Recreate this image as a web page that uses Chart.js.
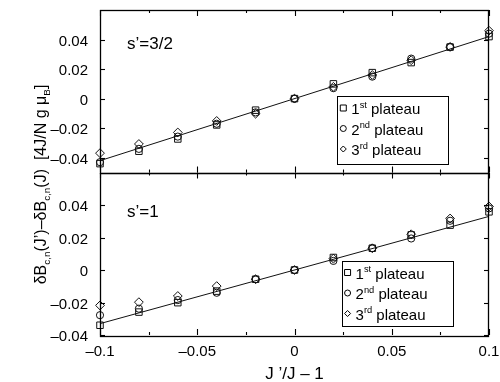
<!DOCTYPE html>
<html lang="en">
<head>
<meta charset="UTF-8">
<script src="https://cdn.jsdelivr.net/npm/chart.js"></script>
<style>
  html, body { margin: 0; padding: 0; background: #fff; }
  #wrap { width: 500px; height: 382px; position: relative; }
</style>
</head>
<body>
<div id="wrap"><canvas id="chart" width="500" height="382"></canvas></div>
<script>
// values
const xValues = [-0.1, -0.08, -0.06, -0.04, -0.02, 0, 0.02, 0.04, 0.06, 0.08, 0.1];
const top1st = [-0.044, -0.0356, -0.0273, -0.0178, -0.0078, 0, 0.0100, 0.0176, 0.0244, 0.0349, 0.0420];
const top2nd = [-0.043, -0.0340, -0.0257, -0.0170, -0.0093, 0, 0.0071, 0.0149, 0.0271, 0.0350, 0.0440];
const top3rd = [-0.0369, -0.0307, -0.0229, -0.0151, -0.0102, 0, 0.0080, 0.0160, 0.0260, 0.0350, 0.0460];
const bot1st = [-0.0340, -0.0259, -0.0201, -0.0130, -0.0057, 0, 0.0077, 0.0134, 0.0216, 0.0276, 0.0358];
const bot2nd = [-0.0278, -0.0238, -0.0185, -0.0140, -0.0057, 0, 0.0056, 0.0134, 0.0194, 0.0303, 0.0379];
const bot3rd = [-0.0218, -0.0198, -0.0160, -0.0099, -0.0057, 0, 0.0070, 0.0134, 0.0220, 0.0317, 0.0391];
const fitX = [-0.1, 0.1];
const topFit = [-0.042, 0.042];
const botFit = [-0.033, 0.033];

const xTicks = [-0.1, -0.05, 0, 0.05, 0.1];
const xTickLabels = ['\u20130.1', '\u20130.05', '0', '0.05', '0.1'];
const xMinorTicks = [-0.075, -0.025, 0.025, 0.075];
const yTicks = [-0.04, -0.02, 0, 0.02, 0.04];
const yTickLabels = ['\u20130.04', '\u20130.02', '0', '0.02', '0.04'];
const topRange = [-0.05, 0.06];
const botRange = [-0.04, 0.06];
const legendRows = [['1', 'st'], ['2', 'nd'], ['3', 'rd']];

const FONT = '"Liberation Sans", Arial, Helvetica, sans-serif';
const INK = '#000';

const pts = (ys) => xValues.map((x, i) => ({ x, y: ys[i] }));
const line = (ys) => fitX.map((x, i) => ({ x, y: ys[i] }));

function markerSet(data, axis, style, r) {
  return {
    data: pts(data), yAxisID: axis, showLine: false, clip: false,
    pointStyle: style, pointRadius: r, pointHoverRadius: r,
    pointBorderColor: '#111', pointBackgroundColor: 'rgba(0,0,0,0)', pointBorderWidth: 1
  };
}
function fitSet(data, axis) {
  return {
    data: line(data), yAxisID: axis, showLine: true, pointRadius: 0,
    borderColor: '#111', borderWidth: 1, order: 5
  };
}

// rich text: segments [text, kind] kind '' | 'sub' | 'sup'
function richWidth(ctx, segs, size) {
  let w = 0;
  segs.forEach(([t, k]) => {
    ctx.font = (k ? size * 0.62 : size) + 'px ' + FONT;
    w += ctx.measureText(t).width;
  });
  return w;
}
function drawRich(ctx, segs, x, y, size, align) {
  let w = richWidth(ctx, segs, size);
  let cx = align === 'center' ? x - w / 2 : align === 'right' ? x - w : x;
  ctx.textAlign = 'left';
  ctx.textBaseline = 'alphabetic';
  segs.forEach(([t, k]) => {
    const s = k ? size * 0.62 : size;
    ctx.font = s + 'px ' + FONT;
    const dy = k === 'sub' ? size * 0.28 : k === 'sup' ? -size * 0.42 : 0;
    ctx.fillText(t, cx, y + dy);
    cx += ctx.measureText(t).width;
  });
}

function drawMarker(ctx, style, x, y, r) {
  ctx.beginPath();
  if (style === 'rect') ctx.rect(x - r, y - r, 2 * r, 2 * r);
  else if (style === 'circle') ctx.arc(x, y, r, 0, Math.PI * 2);
  else { ctx.moveTo(x, y - r); ctx.lineTo(x + r, y); ctx.lineTo(x, y + r); ctx.lineTo(x - r, y); ctx.closePath(); }
  ctx.stroke();
}

const framePlugin = {
  id: 'frame',
  afterDraw(chart) {
    const ctx = chart.ctx;
    const xs = chart.scales.x, yt = chart.scales.yTop, yb = chart.scales.yBot;
    const L = chart.chartArea.left, R = chart.chartArea.right;
    ctx.save();
    ctx.strokeStyle = INK; ctx.fillStyle = INK; ctx.lineWidth = 1.3;
    // panel frames
    [yt, yb].forEach(s => ctx.strokeRect(L + 0.5, Math.round(s.top) + 0.5, R - L - 1, Math.round(s.bottom - s.top)));
    // x ticks (inward) on each horizontal edge
    ctx.lineWidth = 1.1;
    const edges = [[yt.top, 1], [yt.bottom, -1], [yb.top, 1], [yb.bottom, -1]];
    edges.forEach(([ey, dir]) => {
      xTicks.forEach(v => {
        const px = Math.round(xs.getPixelForValue(v)) + 0.5;
        ctx.beginPath(); ctx.moveTo(px, ey); ctx.lineTo(px, ey + dir * 6); ctx.stroke();
      });
      xMinorTicks.forEach(v => {
        const px = Math.round(xs.getPixelForValue(v)) + 0.5;
        ctx.beginPath(); ctx.moveTo(px, ey); ctx.lineTo(px, ey + dir * 3); ctx.stroke();
      });
    });
    // y ticks and labels
    ctx.font = '15px ' + FONT;
    ctx.textAlign = 'right'; ctx.textBaseline = 'middle';
    [yt, yb].forEach(s => {
      yTicks.forEach((v, i) => {
        const py = Math.round(s.getPixelForValue(v)) + 0.5;
        ctx.beginPath(); ctx.moveTo(L, py); ctx.lineTo(L + 5, py); ctx.stroke();
        ctx.beginPath(); ctx.moveTo(R, py); ctx.lineTo(R - 5, py); ctx.stroke();
        ctx.fillText(yTickLabels[i], L - 12, py + 1);
      });
    });
    // x tick labels
    ctx.textAlign = 'center'; ctx.textBaseline = 'middle';
    xTicks.forEach((v, i) => ctx.fillText(xTickLabels[i], xs.getPixelForValue(v), yb.bottom + 17));
    // x title
    ctx.font = '17px ' + FONT;
    ctx.fillText('J \u2019/J \u2013 1', xs.getPixelForValue(0), yb.bottom + 39);
    // panel labels
    ctx.textAlign = 'left';
    ctx.fillText('s\u2019=3/2', L + 27, yt.top + 34);
    ctx.fillText('s\u2019=1', L + 27, yb.top + 40);
    // y title rotated
    ctx.save();
    ctx.translate(46, (yt.top + yb.bottom) / 2 + 12);
    ctx.rotate(-Math.PI / 2);
    drawRich(ctx, [['\u03b4B', ''], ['c,n', 'sub'], ['(J\u2019)\u2013\u03b4B', ''], ['c,n', 'sub'],
      ['(J)  [4J/N g \u03bc', ''], ['B', 'sub'], [']', '']], 0, 0, 16, 'center');
    ctx.restore();
    // legends
    ctx.lineWidth = 1;
    const styles = ['rect', 'circle', 'diamond'];
    const boxes = [
      { x: xs.getPixelForValue(0.022), y: yt.top + 86, w: 111, h: 68 },
      { x: xs.getPixelForValue(0.0242), y: yb.top + 88, w: 111, h: 65 }
    ];
    boxes.forEach(b => {
      ctx.fillStyle = '#fff';
      ctx.fillRect(b.x, b.y, b.w, b.h);
      ctx.strokeRect(Math.round(b.x) + 0.5, Math.round(b.y) + 0.5, b.w, b.h);
      ctx.fillStyle = INK;
      legendRows.forEach((row, i) => {
        const cy = b.y + 12 + i * 20.5;
        drawMarker(ctx, styles[i], b.x + 6, cy, 3);
        drawRich(ctx, [[row[0], ''], [row[1], 'sup'], [' plateau', '']], b.x + 14, cy + 6, 15, 'left');
      });
    });
    ctx.restore();
  }
};

new Chart(document.getElementById('chart'), {
  type: 'scatter',
  data: {
    datasets: [
      fitSet(topFit, 'yTop'),
      markerSet(top1st, 'yTop', 'rect', 4.6),
      markerSet(top2nd, 'yTop', 'circle', 3.6),
      markerSet(top3rd, 'yTop', 'rectRot', 4.4),
      fitSet(botFit, 'yBot'),
      markerSet(bot1st, 'yBot', 'rect', 4.6),
      markerSet(bot2nd, 'yBot', 'circle', 3.6),
      markerSet(bot3rd, 'yBot', 'rectRot', 4.4)
    ]
  },
  options: {
    responsive: false,
    animation: false,
    events: [],
    layout: { padding: { left: 100, right: 11, top: 10, bottom: 47 } },
    plugins: { legend: { display: false }, tooltip: { enabled: false } },
    scales: {
      x: {
        type: 'linear', min: -0.1, max: 0.1,
        ticks: { display: false }, grid: { display: false }, border: { display: false },
        afterFit: s => { s.height = 0; }
      },
      yBot: {
        type: 'linear', position: 'left', stack: 'panels', stackWeight: 1,
        min: botRange[0], max: botRange[1],
        ticks: { display: false }, grid: { display: false }, border: { display: false },
        afterFit: s => { s.width = 0; }
      },
      yTop: {
        type: 'linear', position: 'left', stack: 'panels', stackWeight: 1,
        min: topRange[0], max: topRange[1],
        ticks: { display: false }, grid: { display: false }, border: { display: false },
        afterFit: s => { s.width = 0; }
      }
    }
  },
  plugins: [framePlugin]
});
</script>
</body>
</html>
